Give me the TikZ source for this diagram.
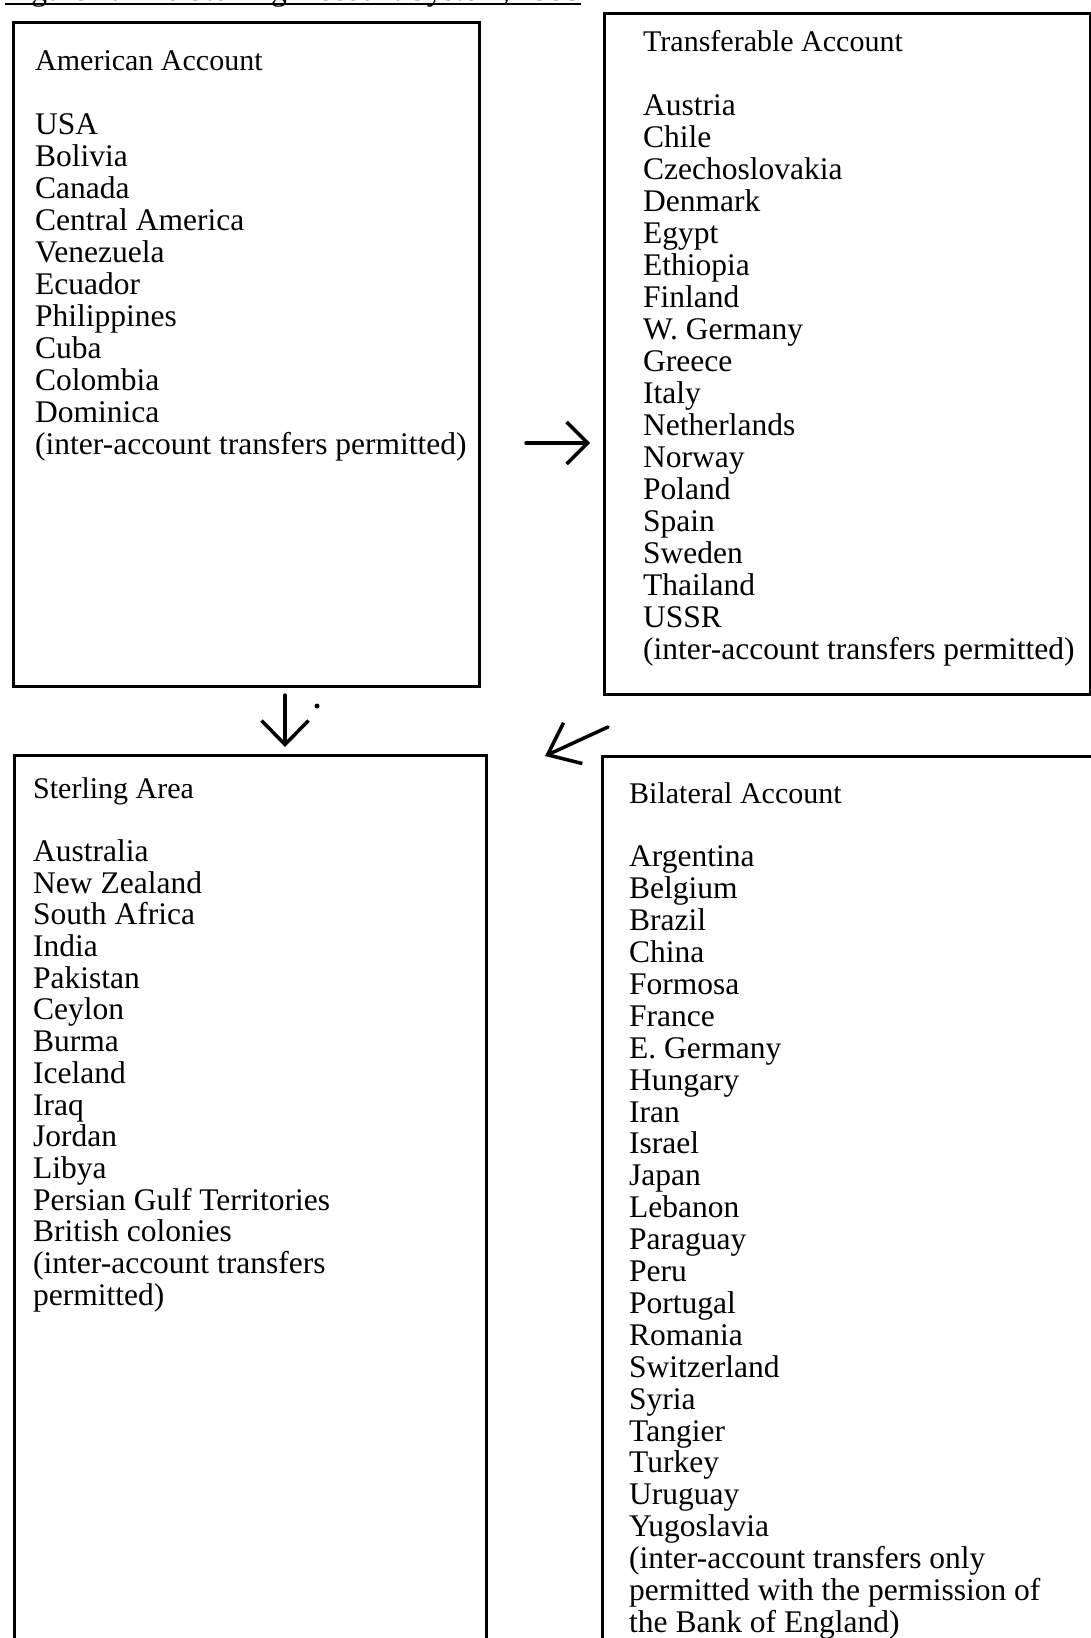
\documentclass[tikz,border=0pt]{standalone}
\usepackage{fontspec}
\setmainfont{Liberation Serif}
\usetikzlibrary{arrows.meta}
\begin{document}
\begin{tikzpicture}[x=1pt,y=-1pt,
  acct/.style={draw, line width=3pt, rectangle, anchor=north west, inner sep=0pt},
  listtext/.style={anchor=base west, inner sep=0pt},
  handarrow/.style={line width=3.5pt, line cap=round, line join=round},
  hdr/.style={},
]
\useasboundingbox (0,0) rectangle (1091,1638);
\clip (0,0) rectangle (1091,1638);

% title (cut off at the top)
\node[listtext] (title) at (5,1) {\fontsize{31.5}{32}\selectfont Figure 1: The Sterling Account System, 1953};
\draw[line width=2.5pt] ([yshift=-3pt]title.base west) -- ([yshift=-3pt]title.base east);

% boxes
\node[acct, minimum width=466pt, minimum height=664pt] (american) at (12,21) {};
\node[acct, minimum width=486pt, minimum height=681pt] (transfer) at (603,12) {};
\node[acct, minimum width=472pt, minimum height=950pt] (sterling) at (13,754) {};
\node[acct, minimum width=540pt, minimum height=950pt] (bilateral) at (601,755) {};

% texts
\node[listtext] (americantext) at (35,70) {\parbox[t]{440pt}{\fontsize{31.5}{32}\selectfont\raggedright
{\fontsize{30}{32}\selectfont American Account}\\ \mbox{}\\
USA\\ Bolivia\\ Canada\\ Central America\\ Venezuela\\ Ecuador\\ Philippines\\ Cuba\\ Colombia\\ Dominica\\
(inter-account transfers permitted)}};

\node[listtext] (transfertext) at (643,51) {\parbox[t]{445pt}{\fontsize{31.5}{32}\selectfont\raggedright
{\fontsize{30}{32}\selectfont Transferable Account}\\ \mbox{}\\
Austria\\ Chile\\ Czechoslovakia\\ Denmark\\ Egypt\\ Ethiopia\\ Finland\\ W. Germany\\ Greece\\ Italy\\ Netherlands\\ Norway\\ Poland\\ Spain\\ Sweden\\ Thailand\\ USSR\\
(inter-account transfers permitted)}};

\node[listtext] (sterlingtext) at (33,798) {\parbox[t]{440pt}{\fontsize{31.5}{31.7}\selectfont\raggedright
{\fontsize{30}{31.7}\selectfont Sterling Area}\\ \mbox{}\\
Australia\\ New Zealand\\ South Africa\\ India\\ Pakistan\\ Ceylon\\ Burma\\ Iceland\\ Iraq\\ Jordan\\ Libya\\ Persian Gulf Territories\\ British colonies\\
(inter-account transfers\\ permitted)}};

\node[listtext] (bilateraltext) at (629,803) {\parbox[t]{455pt}{\fontsize{31.5}{31.9}\selectfont\raggedright
{\fontsize{30}{31.9}\selectfont Bilateral Account}\\ \mbox{}\\
Argentina\\ Belgium\\ Brazil\\ China\\ Formosa\\ France\\ E. Germany\\ Hungary\\ Iran\\ Israel\\ Japan\\ Lebanon\\ Paraguay\\ Peru\\ Portugal\\ Romania\\ Switzerland\\ Syria\\ Tangier\\ Turkey\\ Uruguay\\ Yugoslavia\\
(inter-account transfers only\\ permitted with the permission of\\ the Bank of England)}};

% arrows
\coordinate (a1s) at (526,443); \coordinate (a1e) at (590,443);
\draw[handarrow, -{Straight Barb[length=21pt,width=42pt]}] (a1s) -- (a1e);
\coordinate (a2s) at (285,695); \coordinate (a2e) at (285,747);
\draw[handarrow, -{Straight Barb[length=24pt,width=47pt]}] (a2s) -- (a2e);
\coordinate (a3s) at (608,727); \coordinate (a3e) at (545,756);
\draw[handarrow, -{Straight Barb[length=28pt,width=45pt]}] (a3s) -- (a3e);
\fill (317,706) circle[radius=2.5pt];
\end{tikzpicture}
\end{document}
